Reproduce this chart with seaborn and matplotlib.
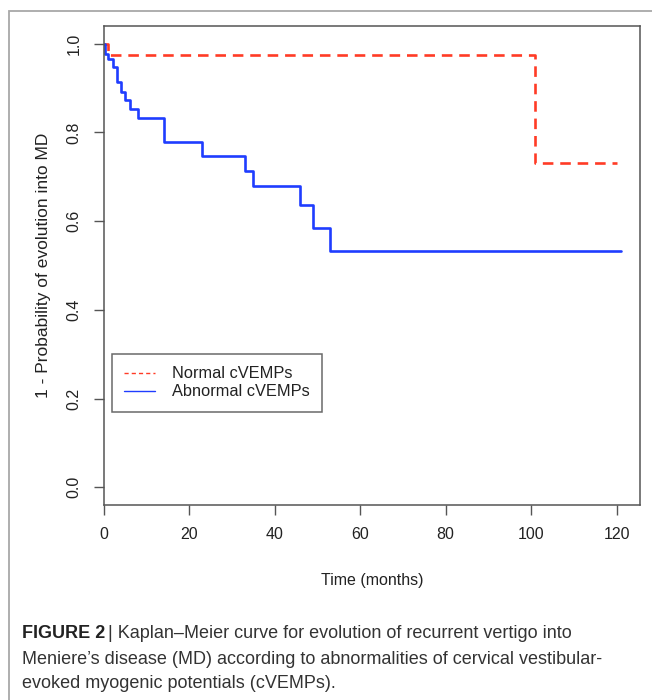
# Kaplan-Meier curve, cVEMPs
#
# python plot.py


import matplotlib.pyplot as plt
import matplotlib.patches as mpatches
import numpy as np
import pandas as pd
import seaborn as sns


# survival steps
normal_time = [0, 1, 101, 120]
normal_surv = [1.0, 0.974, 0.730, 0.730]

abnormal_time = [0, 0.2, 1, 2, 3, 4, 5, 6, 8, 14, 23, 33, 35, 46, 49, 53, 121]
abnormal_surv = [1.0, 0.977, 0.965, 0.947, 0.913, 0.892, 0.874, 0.853, 0.832,
                 0.779, 0.747, 0.714, 0.679, 0.636, 0.585, 0.533, 0.533]

x_ticks = [0, 20, 40, 60, 80, 100, 120]
y_ticks = [0.0, 0.2, 0.4, 0.6, 0.8, 1.0]


sns.set_style('white')
plt.rcParams['font.family'] = ['Liberation Sans', 'DejaVu Sans']

fig = plt.figure(figsize = (6.52, 7.0), dpi = 100)
ax = fig.add_axes([104 / 652, 1 - 505 / 700, 536 / 652, 479 / 700])

normal = pd.DataFrame({'time': normal_time, 'surv': normal_surv})
abnormal = pd.DataFrame({'time': abnormal_time, 'surv': abnormal_surv})

sns.lineplot(data = normal, x = 'time', y = 'surv', ax = ax, estimator = None, sort = False,
             color = '#ff3b26', linestyle = (0, (4, 2.6)), linewidth = 1.9,
             drawstyle = 'steps-post')
sns.lineplot(data = abnormal, x = 'time', y = 'surv', ax = ax, estimator = None, sort = False,
             color = '#1f3dff', linewidth = 1.9, drawstyle = 'steps-post')

ax.set_xlim(0, 125.5)
ax.set_ylim(-0.04, 1.04)
ax.set_xticks(x_ticks)
ax.set_yticks(y_ticks)
ax.set_xticklabels([str(t) for t in x_ticks])
ax.set_yticklabels(['%.1f' % t for t in y_ticks], rotation = 90, va = 'center')
ax.tick_params(axis = 'both', direction = 'out', length = 7, width = 1, color = '#555555',
               labelsize = 11.5, pad = 9, labelcolor = '#222222')
ax.tick_params(left = True, bottom = True)
for s in ax.spines.values():
    s.set_color('#555555')
    s.set_linewidth(1.1)

ax.set_xlabel('Time (months)', fontsize = 11.5, color = '#222222', labelpad = 22)
ax.set_ylabel('1 - Probability of evolution into MD', fontsize = 12.5, color = '#222222', labelpad = 11)

handles = [plt.Line2D([], [], color = '#ff3b26', linestyle = (0, (3, 2.2)), linewidth = 1),
           plt.Line2D([], [], color = '#1f3dff', linewidth = 1)]
leg = ax.legend(handles, ['Normal cVEMPs', 'Abnormal cVEMPs'], loc = 'upper left',
                bbox_to_anchor = (0.015, 0.315), borderaxespad = 0, fontsize = 11.8,
                fancybox = False, frameon = True, handlelength = 1.9, handletextpad = 1.0,
                borderpad = 0.75, labelspacing = 0.18)
leg.get_frame().set_edgecolor('#444444')
leg.get_frame().set_linewidth(1.1)
for t in leg.get_texts():
    t.set_color('#222222')

# outer figure frame
fig.add_artist(mpatches.Rectangle((9 / 652, -0.1), 1.2, 1.1 - 11 / 700, transform = fig.transFigure,
                                  fill = False, edgecolor = '#a8a8a8', linewidth = 1.3))

cap_font = ['Liberation Sans Narrow', 'Liberation Sans', 'DejaVu Sans']
head = fig.text(22 / 652, 1 - 633 / 700, 'FIGURE 2', fontsize = 13, fontweight = 'bold',
                family = cap_font, va = 'center', color = '#222222')
fig.canvas.draw()
head_end = head.get_window_extent().x1 / fig.bbox.width
fig.text(head_end + 3 / 652, 1 - 633 / 700, '| Kaplan\u2013Meier curve for evolution of recurrent vertigo into',
         fontsize = 13, family = cap_font, va = 'center', color = '#333333')
fig.text(22 / 652, 1 - 659 / 700, 'Meniere\u2019s disease (MD) according to abnormalities of cervical vestibular-',
         fontsize = 13, family = cap_font, va = 'center', color = '#333333')
fig.text(22 / 652, 1 - 683 / 700, 'evoked myogenic potentials (cVEMPs).',
         fontsize = 13, family = cap_font, va = 'center', color = '#333333')

plt.savefig('out.png', dpi = 100)
